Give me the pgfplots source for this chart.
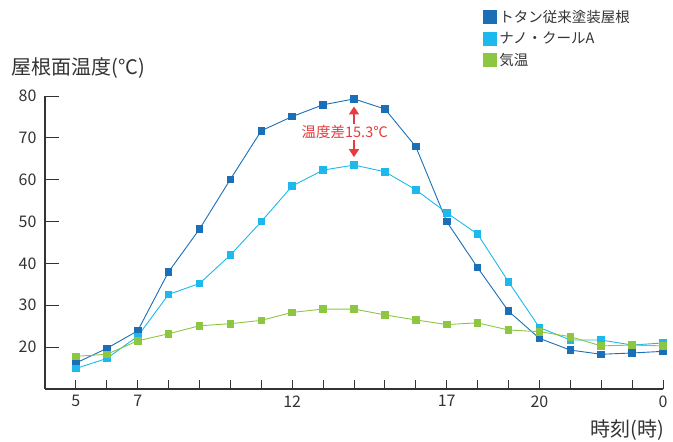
\documentclass[border=0pt]{standalone}
\usepackage{fontspec}
\setmainfont{Noto Sans CJK JP}
\usepackage{pgfplots}
\pgfplotsset{compat=1.18}
\usetikzlibrary{arrows.meta}
\definecolor{tbl}{HTML}{1A6FB7}
\definecolor{nano}{HTML}{1DB9EC}
\definecolor{air}{HTML}{8DC641}
\definecolor{ink}{HTML}{333333}
\definecolor{diff}{HTML}{E83A3F}
\begin{document}
\begin{tikzpicture}
\path[use as bounding box] (-45pt,-53pt) rectangle (628pt,389pt);
\begin{axis}[
  at={(0pt,0pt)}, anchor=south west,
  scale only axis, width=618pt, height=293pt,
  xmin=4, xmax=24, ymin=10, ymax=80,
  axis x line=bottom, axis y line=left,
  axis line style={ink, line width=1.1pt, -},
  tick align=inside,
  xtick={5,...,24},
  xticklabels={5,,7,,,,,12,,,,,17,,,20,,,,0},
  ytick={20,30,...,80},
  xtick style={ink, line width=1pt, /pgfplots/major tick length=9pt},
  ytick style={ink, line width=1pt, /pgfplots/major tick length=14pt},
  tick label style={font=\fontsize{16}{16}\selectfont, text=ink},
  /pgf/number format/assume math mode=true,
  yticklabel style={xshift=-5pt},
  xticklabel style={yshift=-3pt},
  clip=false,
  legend style={at={(0.709,1.30)}, anchor=north west, draw=none, fill=none,
    font=\fontsize{14.5}{16}\selectfont, text=ink, row sep=4pt, inner sep=0pt,
    cells={anchor=west}},
  legend image code/.code={\fill (0pt,-6.5pt) rectangle (13pt,6.5pt);},
]
\addplot[color=tbl, line width=0.9pt, mark=square*, mark size=3.3pt] coordinates {
(5,16.2) (6,19.7) (7,23.9) (8,38.0) (9,48.2) (10,60.1) (11,71.7) (12,75.1)
(13,77.9) (14,79.3) (15,76.9) (16,67.9) (17,50.0) (18,39.0) (19,28.6)
(20,22.1) (21,19.3) (22,18.3) (23,18.6) (24,19.0)};
\addlegendentry{トタン従来塗装屋根}
\addplot[color=nano, line width=0.9pt, mark=square*, mark size=3.3pt] coordinates {
(5,14.9) (6,17.3) (7,22.6) (8,32.6) (9,35.2) (10,42.0) (11,50.0) (12,58.5)
(13,62.3) (14,63.5) (15,61.9) (16,57.6) (17,52.1) (18,47.0) (19,35.6)
(20,24.7) (21,21.7) (22,21.7) (23,20.5) (24,21.0)};
\addlegendentry{ナノ・クールA}
\addplot[color=air, line width=0.9pt, mark=square*, mark size=3.3pt] coordinates {
(5,17.8) (6,18.3) (7,21.5) (8,23.2) (9,25.1) (10,25.6) (11,26.4) (12,28.3)
(13,29.1) (14,29.1) (15,27.7) (16,26.5) (17,25.4) (18,25.8) (19,24.1)
(20,23.7) (21,22.5) (22,20.3) (23,20.5) (24,20.3)};
\addlegendentry{気温}
\draw[diff, line width=1.4pt, -{Triangle[width=10pt,length=8pt]}] (axis cs:14,71.4) -- (axis cs:14,77.5);
\draw[diff, line width=1.4pt, -{Triangle[width=10pt,length=8pt]}] (axis cs:14,71.4) -- (axis cs:14,65.4);
\node[fill=white, text=diff, inner sep=1pt, font=\fontsize{14.5}{14.5}\selectfont] at (axis cs:13.7,71.4) {温度差15.3℃};
\end{axis}
\node[anchor=west, text=ink, font=\fontsize{20}{20}\selectfont] at (-37pt,321pt) {屋根面温度(°C)};
\node[anchor=east, text=ink, font=\fontsize{20}{20}\selectfont] at (623pt,-41pt) {時刻(時)};
\end{tikzpicture}
\end{document}
